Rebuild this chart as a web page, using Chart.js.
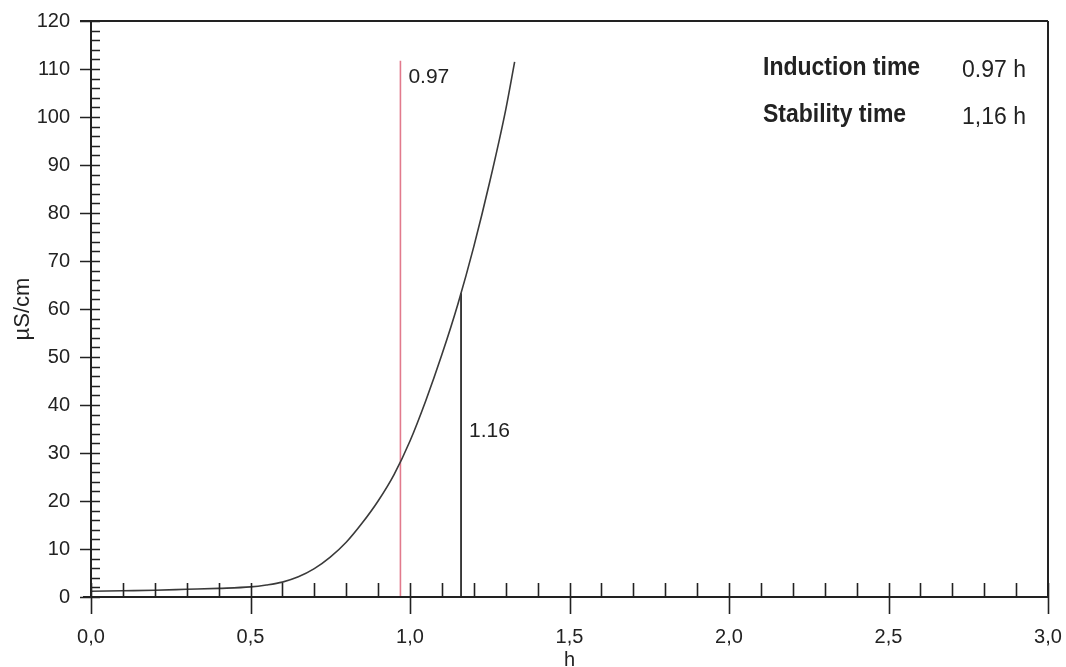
<!DOCTYPE html>
<html>
<head>
<meta charset="utf-8">
<script src="https://cdn.jsdelivr.net/npm/chart.js@4.4.1/dist/chart.umd.min.js"></script>
<style>
  html, body { margin: 0; padding: 0; background: #fff; }
  canvas { display: block; }
</style>
</head>
<body>
<canvas id="rancimat" width="1066" height="667"></canvas>
<script>
// conductivity curve
var hours = [0, 0.1, 0.2, 0.3, 0.4, 0.5, 0.55, 0.6, 0.65, 0.7, 0.75, 0.8, 0.85, 0.9, 0.95, 1.0, 1.05, 1.1, 1.15, 1.2, 1.25, 1.3, 1.328];
var conductivity = [1.2, 1.3, 1.4, 1.6, 1.8, 2.1, 2.5, 3.1, 4.2, 5.9, 8.3, 11.4, 15.4, 20.0, 25.5, 32.5, 41.0, 50.5, 61.0, 73.0, 86.5, 101.5, 111.5];

// marker lines
var inductionTime = 0.97;
var inductionTop = 111.7;
var stabilityTime = 1.16;
var stabilityTop = 63.3;

// ticks
var xTicks = [0, 0.5, 1.0, 1.5, 2.0, 2.5, 3.0];
var yTicks = [0, 10, 20, 30, 40, 50, 60, 70, 80, 90, 100, 110, 120];

var infoRows = [
	{ label: 'Induction time', value: '0.97 h' },
	{ label: 'Stability time', value: '1,16 h' }
];

var INK = '#222';
var TEXT = '#222';
var FONT = '"Liberation Sans", Arial, sans-serif';

var curve = hours.map(function(h, i) { return { x: h, y: conductivity[i] }; });

// frame, tick marks and texts the way the instrument prints them
var rancimatFrame = {
	id: 'rancimatFrame',
	afterDatasetsDraw: function(chart) {
		var ctx = chart.ctx;
		var a = chart.chartArea;
		var sx = chart.scales.x, sy = chart.scales.y;
		ctx.save();
		ctx.strokeStyle = INK;
		ctx.lineCap = 'butt';

		// box
		ctx.lineWidth = 2;
		ctx.beginPath();
		ctx.moveTo(a.left - 11, a.top); ctx.lineTo(a.right, a.top);
		ctx.moveTo(a.right, a.top); ctx.lineTo(a.right, a.bottom);
		ctx.moveTo(a.left - 8, a.bottom); ctx.lineTo(a.right, a.bottom);
		ctx.moveTo(a.left, a.top); ctx.lineTo(a.left, a.bottom);
		ctx.stroke();

		// x ticks every 0.1, majors cross the axis
		ctx.lineWidth = 1.6;
		ctx.beginPath();
		for (var i = 0; i <= 30; i++) {
			var px = Math.round(sx.getPixelForValue(i / 10)) + 0.5;
			var major = i % 5 === 0;
			ctx.moveTo(px, a.bottom - 14);
			ctx.lineTo(px, a.bottom + (major ? 17 : 0));
		}
		// y ticks every 2, majors cross the axis
		for (var j = 0; j <= 60; j++) {
			var py = Math.round(sy.getPixelForValue(j * 2)) + 0.5;
			var maj = j % 5 === 0;
			ctx.moveTo(a.left - (maj ? 11 : 0), py);
			ctx.lineTo(a.left + 9, py);
		}
		ctx.stroke();

		// marker labels
		ctx.fillStyle = TEXT;
		ctx.font = '21px ' + FONT;
		ctx.textBaseline = 'alphabetic';
		ctx.textAlign = 'left';
		ctx.fillText('0.97', sx.getPixelForValue(inductionTime) + 8, 83);
		ctx.fillText('1.16', sx.getPixelForValue(stabilityTime) + 8, 437);

		// result box, top right
		infoRows.forEach(function(row, k) {
			var base = 75 + k * 47;
			ctx.save();
			ctx.translate(763, base);
			ctx.scale(0.92, 1);
			ctx.font = 'bold 25px ' + FONT;
			ctx.fillText(row.label, 0, 0);
			ctx.restore();
			ctx.font = '23px ' + FONT;
			ctx.fillText(row.value, 962, base + 2);
		});
		ctx.restore();
	}
};

var ctx = document.getElementById('rancimat').getContext('2d');
var chart = new Chart(ctx, {
	type: 'line',
	data: {
		datasets: [
			{
				label: 'Conductivity',
				data: curve,
				borderColor: '#3a3a3a',
				borderWidth: 1.6,
				pointRadius: 0,
				cubicInterpolationMode: 'monotone',
				fill: false
			},
			{
				label: 'Induction time',
				data: [{ x: inductionTime, y: 0 }, { x: inductionTime, y: inductionTop }],
				borderColor: '#e27a8d',
				borderWidth: 1.6,
				pointRadius: 0
			},
			{
				label: 'Stability time',
				data: [{ x: stabilityTime, y: 0 }, { x: stabilityTime, y: stabilityTop }],
				borderColor: '#111',
				borderWidth: 1.6,
				pointRadius: 0
			}
		]
	},
	options: {
		responsive: false,
		animation: false,
		devicePixelRatio: 1,
		layout: { padding: { top: 21, right: 18, left: 0, bottom: 0 } },
		plugins: {
			legend: { display: false },
			tooltip: { enabled: false }
		},
		scales: {
			x: {
				type: 'linear',
				min: 0,
				max: 3,
				afterBuildTicks: function(scale) {
					scale.ticks = xTicks.map(function(v) { return { value: v }; });
				},
				ticks: {
					autoSkip: false,
					maxRotation: 0,
					padding: 28,
					color: TEXT,
					font: { family: FONT, size: 20 },
					callback: function(v) { return v.toFixed(1).replace('.', ','); }
				},
				grid: { display: false, drawTicks: false },
				border: { display: false },
				title: {
					display: true,
					text: 'h',
					color: TEXT,
					padding: { top: 0, bottom: -5 },
					font: { family: FONT, size: 20 }
				},
				afterFit: function(scale) {
					scale.height = 70;
					scale.paddingLeft = 0;
					scale.paddingRight = 0;
				}
			},
			y: {
				min: 0,
				max: 120,
				afterBuildTicks: function(scale) {
					scale.ticks = yTicks.map(function(v) { return { value: v }; });
				},
				ticks: {
					padding: 21,
					color: TEXT,
					font: { family: FONT, size: 20 }
				},
				grid: { display: false, drawTicks: false },
				border: { display: false },
				title: {
					display: true,
					text: 'µS/cm',
					color: TEXT,
					padding: { top: 10, bottom: 0 },
					font: { family: FONT, size: 22 }
				},
				afterFit: function(scale) {
					scale.width = 91;
					scale.paddingTop = 0;
					scale.paddingBottom = 0;
				}
			}
		}
	},
	plugins: [rancimatFrame]
});
</script>
</body>
</html>
